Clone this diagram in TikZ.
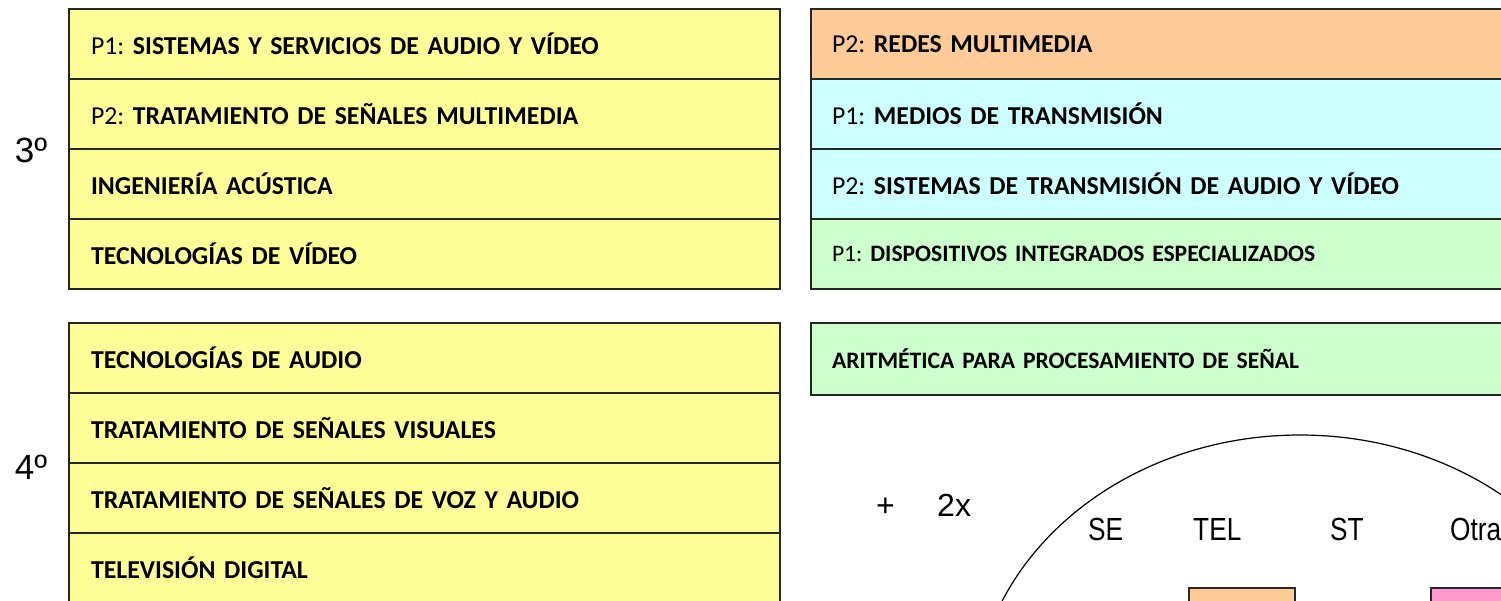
\documentclass[tikz,border=0pt]{standalone}
\usepackage{fontspec}
\setmainfont{Carlito}
\newfontfamily\arialfont{Liberation Sans}
\newfontfamily\narrowfont[FakeStretch=0.82]{Liberation Sans}
\usetikzlibrary{positioning}
\frenchspacing
\definecolor{yelfill}{HTML}{FFFF99}
\definecolor{orafill}{HTML}{FFCC99}
\definecolor{cyafill}{HTML}{CCFFFF}
\definecolor{grefill}{HTML}{CCFFCC}
\definecolor{pinfill}{HTML}{FF99CC}
\tikzset{
  row/.style={draw=black!85,line width=1.6pt,outer sep=0pt,minimum height=70pt,
    inner xsep=22pt,align=left,font=\fontsize{25.8}{30}\selectfont},
  leftrow/.style={row,text width=667pt,fill=yelfill},
  rightrow/.style={row,inner xsep=21pt,text width=700pt},
  smalltext/.style={font=\fontsize{23.6}{28}\selectfont},
  yearlabel/.style={font=\arialfont\fontsize{35}{40}\selectfont,inner sep=0pt},
  arial/.style={font=\arialfont\fontsize{32}{36}\selectfont,inner sep=0pt,anchor=base west},
  narrow/.style={font=\narrowfont\fontsize{32}{36}\selectfont,inner sep=0pt,anchor=base west},
  tagbox/.style={draw=black!85,line width=1.4pt,outer sep=0pt,anchor=north west,
    minimum height=50pt},
  tagtext/.style={font=\narrowfont\bfseries\fontsize{30}{34}\selectfont,inner sep=0pt,anchor=base west}
}
\begin{document}
\begin{tikzpicture}[x=1pt,y=-1pt]
  \useasboundingbox (0,0) rectangle (1501,600);
  \clip (0,0) rectangle (1501,600);
  % third year, left column
  \node[leftrow,anchor=north west] (a1) at (69,9) {P1: \textbf{SISTEMAS Y SERVICIOS DE AUDIO Y VÍDEO}};
  \node[leftrow,below=0pt of a1] (a2) {P2: \textbf{TRATAMIENTO DE SEÑALES MULTIMEDIA}};
  \node[leftrow,below=0pt of a2] (a3) {\textbf{INGENIERÍA ACÚSTICA}};
  \node[leftrow,below=0pt of a3] (a4) {\textbf{TECNOLOGÍAS DE VÍDEO}};
  % third year, right column
  \node[rightrow,fill=orafill,anchor=north west] (b1) at (811,9) {P2: \textbf{REDES MULTIMEDIA}};
  \node[rightrow,fill=cyafill,below=0pt of b1] (b2) {P1: \textbf{MEDIOS DE TRANSMISIÓN}};
  \node[rightrow,fill=cyafill,below=0pt of b2] (b3) {P2: \textbf{SISTEMAS DE TRANSMISIÓN DE AUDIO Y VÍDEO}};
  \node[rightrow,fill=grefill,smalltext,below=0pt of b3] (b4) {P1: \textbf{DISPOSITIVOS INTEGRADOS ESPECIALIZADOS}};
  % fourth year, left column
  \node[leftrow,anchor=north west] (c1) at (69,323) {\textbf{TECNOLOGÍAS DE AUDIO}};
  \node[leftrow,below=0pt of c1] (c2) {\textbf{TRATAMIENTO DE SEÑALES VISUALES}};
  \node[leftrow,below=0pt of c2] (c3) {\textbf{TRATAMIENTO DE SEÑALES DE VOZ Y AUDIO}};
  \node[leftrow,below=0pt of c3] (c4) {\textbf{TELEVISIÓN DIGITAL}};
  % fourth year, right column
  \node[rightrow,fill=grefill,smalltext,minimum height=72pt,anchor=north west] (d1) at (811,323) {\textbf{ARITMÉTICA PARA PROCESAMIENTO DE SEÑAL}};
  % year labels
  \node[yearlabel] (yr3) at (31,150) {3º};
  \node[yearlabel] (yr4) at (31,467) {4º};
  % optional block
  \node[arial] (plus) at (876,516) {+};
  \node[arial] (twox) at (937,516) {2x};
  \draw[line width=1.2pt] (1300,715) ellipse [x radius=326,y radius=280];
  \node[narrow] (se) at (1088,540) {SE};
  \node[narrow] (tel) at (1193,540) {TEL};
  \node[narrow] (st) at (1330,540) {ST};
  \node[narrow] (otra) at (1450,540) {Otras};
  \node[tagbox,fill=orafill,minimum width=106pt] (tagp) at (1189,588) {};
  \node[tagbox,fill=pinfill,minimum width=120pt] (tago) at (1431,588) {};
  \node[tagtext] (tagptext) at (1226,622) {P1};
  \node[tagtext] (tagotext) at (1472,622) {Otras};
\end{tikzpicture}
\end{document}
